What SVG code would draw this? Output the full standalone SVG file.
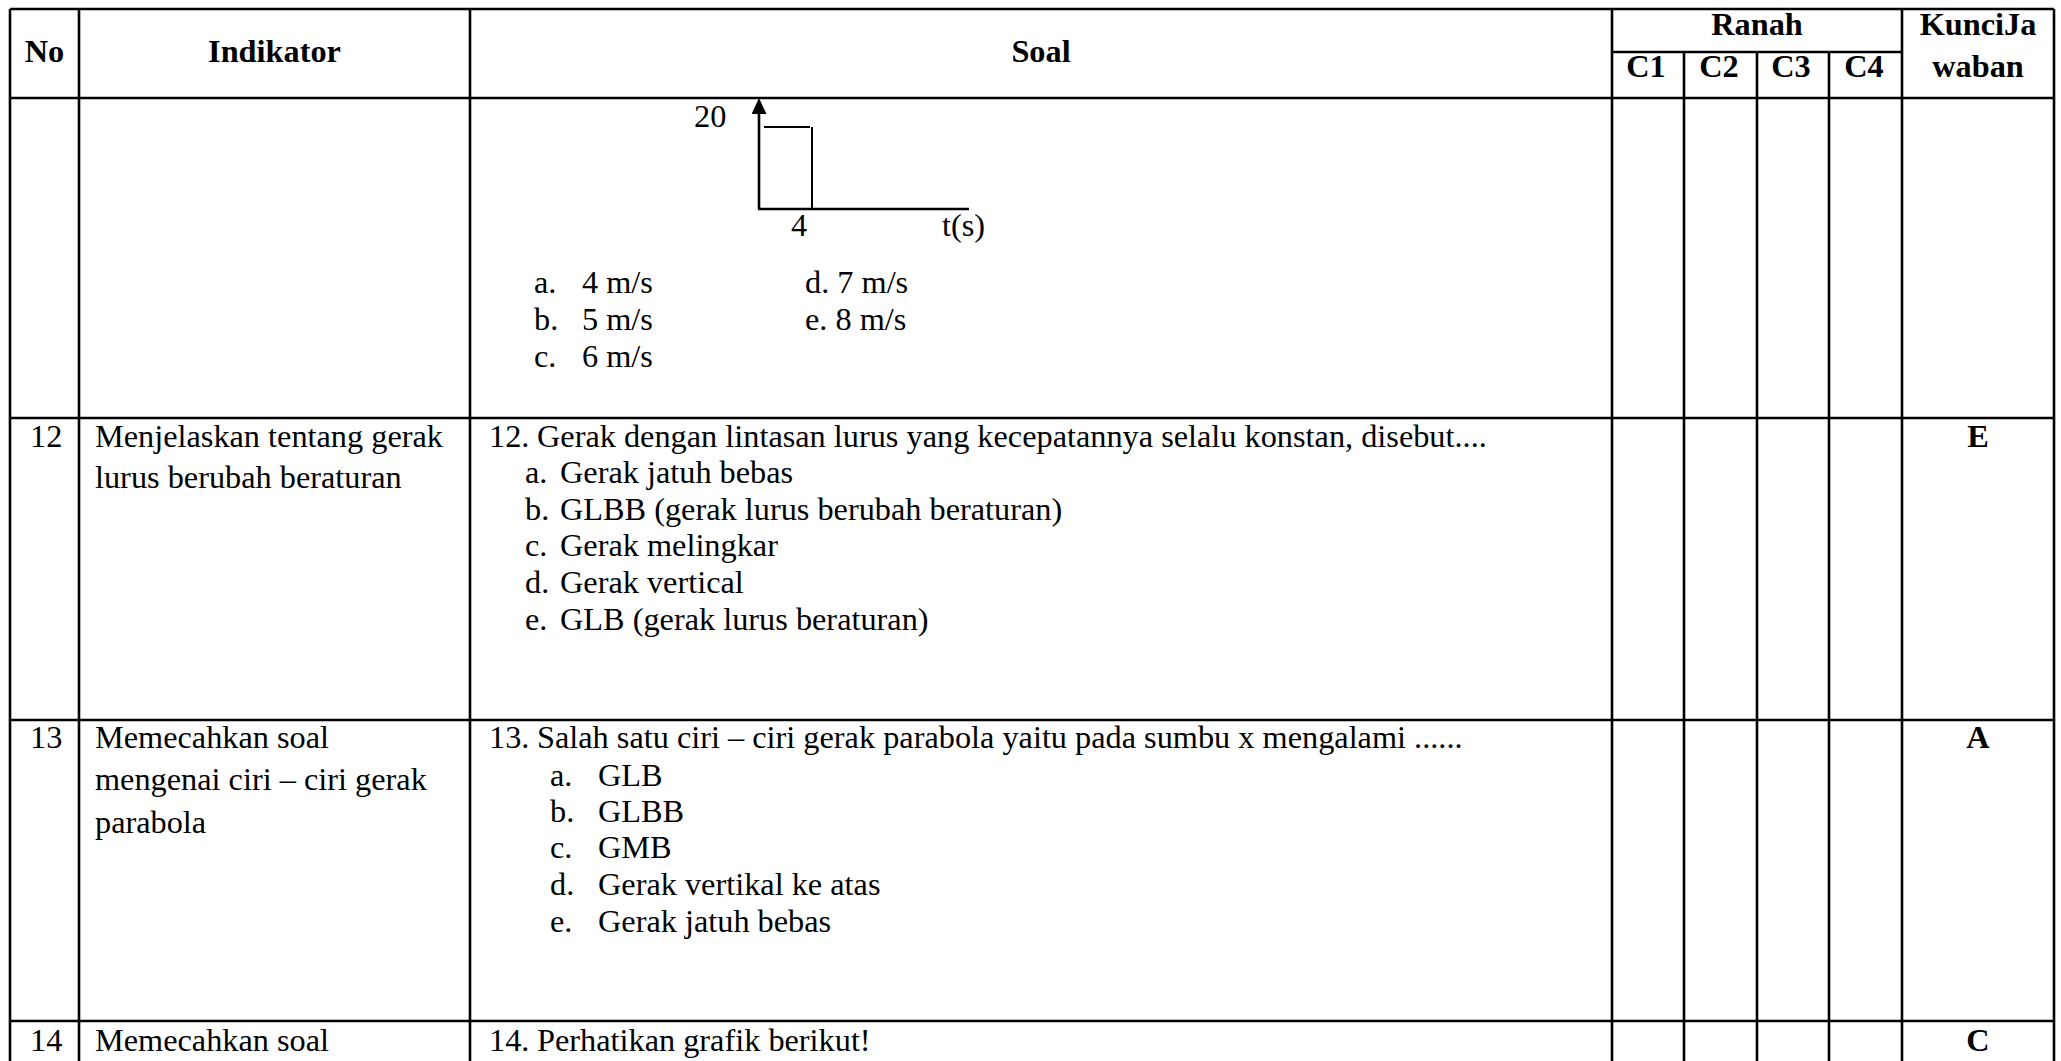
<svg xmlns="http://www.w3.org/2000/svg" width="2061" height="1061" viewBox="0 0 2061 1061">
<style>
.g{stroke:#000;stroke-width:2.6;fill:none}
.ax{stroke:#000;stroke-width:2.6;fill:none}
.st{stroke:#000;stroke-width:2;fill:none}
text{font-family:"Liberation Serif","Times New Roman",serif;font-size:32.3px;fill:#000}
.b{font-weight:bold}
.m{text-anchor:middle}
</style>
<defs>
<marker id="arr" markerWidth="16" markerHeight="15" refX="2" refY="7.5" orient="auto" markerUnits="userSpaceOnUse" viewBox="0 0 16 15">
<path d="M0,0 L16,7.5 L0,15 Z" fill="#000"/>
</marker>
</defs>
<rect width="2061" height="1061" fill="#fff"/>
<g id="grid">
<line class="g" x1="10" y1="9" x2="2054" y2="9"/>
<line class="g" x1="10" y1="9" x2="10" y2="1061"/>
<line class="g" x1="2054" y1="9" x2="2054" y2="1061"/>
<line class="g" x1="79" y1="9" x2="79" y2="1061"/>
<line class="g" x1="470" y1="9" x2="470" y2="1061"/>
<line class="g" x1="1612" y1="9" x2="1612" y2="1061"/>
<line class="g" x1="1684" y1="52" x2="1684" y2="1061"/>
<line class="g" x1="1757" y1="52" x2="1757" y2="1061"/>
<line class="g" x1="1829" y1="52" x2="1829" y2="1061"/>
<line class="g" x1="1902" y1="9" x2="1902" y2="1061"/>
<line class="g" x1="1612" y1="52" x2="1902" y2="52"/>
<line class="g" x1="10" y1="98" x2="2054" y2="98"/>
<line class="g" x1="10" y1="418" x2="2054" y2="418"/>
<line class="g" x1="10" y1="720" x2="2054" y2="720"/>
<line class="g" x1="10" y1="1021" x2="2054" y2="1021"/>
</g>
<g id="graph">
<line class="ax" x1="759" y1="209" x2="759" y2="112" marker-end="url(#arr)"/>
<line class="ax" x1="758" y1="209" x2="969" y2="209"/>
<line class="st" x1="764" y1="127" x2="810" y2="127"/>
<line class="st" x1="812" y1="127" x2="812" y2="209"/>
</g>
<g id="header">
<text class="b m" x="44.5" y="62">No</text>
<text class="b m" x="274.5" y="62">Indikator</text>
<text class="b m" x="1041" y="62">Soal</text>
<text class="b m" x="1757" y="35">Ranah</text>
<text class="b m" x="1978" y="35">KunciJa</text>
<text class="b m" x="1978" y="77">waban</text>
<text class="b m" x="1646" y="77">C1</text>
<text class="b m" x="1719" y="77">C2</text>
<text class="b m" x="1791" y="77">C3</text>
<text class="b m" x="1864" y="77">C4</text>
</g>
<g id="row11">
<text x="694" y="127">20</text>
<text x="791" y="236">4</text>
<text x="942" y="236">t(s)</text>
<text x="534" y="293">a.</text><text x="582" y="293">4 m/s</text>
<text x="534" y="330">b.</text><text x="582" y="330">5 m/s</text>
<text x="534" y="367">c.</text><text x="582" y="367">6 m/s</text>
<text x="805" y="293">d. 7 m/s</text>
<text x="805" y="330">e. 8 m/s</text>
</g>
<g id="row12">
<text x="30" y="447">12</text>
<text x="95" y="447">Menjelaskan tentang gerak</text>
<text x="95" y="488">lurus berubah beraturan</text>
<text x="489" y="447">12.</text>
<text x="537" y="447">Gerak dengan lintasan lurus yang kecepatannya selalu konstan, disebut....</text>
<text x="525" y="483">a.</text><text x="560" y="483">Gerak jatuh bebas</text>
<text x="525" y="520">b.</text><text x="560" y="520">GLBB (gerak lurus berubah beraturan)</text>
<text x="525" y="556">c.</text><text x="560" y="556">Gerak melingkar</text>
<text x="525" y="593">d.</text><text x="560" y="593">Gerak vertical</text>
<text x="525" y="630">e.</text><text x="560" y="630">GLB (gerak lurus beraturan)</text>
<text class="b m" x="1978" y="447">E</text>
</g>
<g id="row13">
<text x="30" y="748">13</text>
<text x="95" y="748">Memecahkan soal</text>
<text x="95" y="790">mengenai ciri – ciri gerak</text>
<text x="95" y="833">parabola</text>
<text x="489" y="748">13.</text>
<text x="537" y="748">Salah satu ciri – ciri gerak parabola yaitu pada sumbu x mengalami ......</text>
<text x="550" y="786">a.</text><text x="598" y="786">GLB</text>
<text x="550" y="822">b.</text><text x="598" y="822">GLBB</text>
<text x="550" y="858">c.</text><text x="598" y="858">GMB</text>
<text x="550" y="895">d.</text><text x="598" y="895">Gerak vertikal ke atas</text>
<text x="550" y="932">e.</text><text x="598" y="932">Gerak jatuh bebas</text>
<text class="b m" x="1978" y="748">A</text>
</g>
<g id="row14">
<text x="30" y="1051">14</text>
<text x="95" y="1051">Memecahkan soal</text>
<text x="489" y="1051">14.</text>
<text x="537" y="1051">Perhatikan grafik berikut!</text>
<text class="b m" x="1978" y="1051">C</text>
</g>
</svg>
